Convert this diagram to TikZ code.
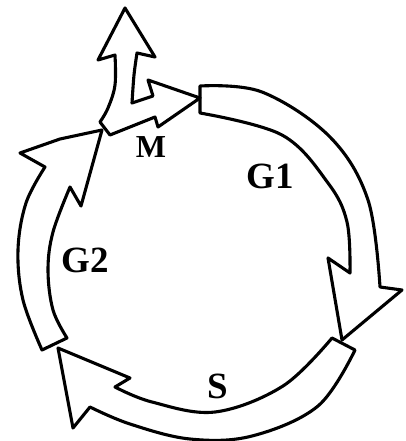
\documentclass[tikz,border=0pt]{standalone}
\usepackage{fontspec}
\setmainfont{Liberation Serif}
\begin{document}
\begin{tikzpicture}[x=1pt,y=-1pt,
  band/.style={draw=black, line width=3.1pt, line join=round, fill=white},
  lbl/.style={inner sep=0pt, font=\fontsize{37}{37}\selectfont\bfseries},
  lblm/.style={inner sep=0pt, font=\fontsize{32}{32}\selectfont\bfseries}]
\useasboundingbox[fill=white] (0,0) rectangle (405,441);
% G1
\draw[band] (200,113) -- (200,86)
  -- plot[smooth, tension=0.6] coordinates {(200,86) (262,92) (330,137) (368,200) (380,287)}
  -- (402,290) -- (342,340) -- (328,258) -- (350,273)
  -- plot[smooth, tension=0.6] coordinates {(350,273) (347,222) (328,183) (282,135) (200,113)}
  -- cycle;
% S
\draw[band] (332,338) -- (355,350)
  -- plot[smooth, tension=0.6] coordinates {(355,350) (318,406) (252,436) (190,439) (130,424) (90,407)}
  -- (73,428) -- (58,348) -- (130,378) -- (115,387)
  -- plot[smooth, tension=0.6] coordinates {(115,387) (152,402) (215,412) (283,386) (332,338)}
  -- cycle;
% G2
\draw[band] (67,338) -- (42,350)
  -- plot[smooth, tension=0.6] coordinates {(42,350) (23,300) (18,250) (26,203) (45,167)}
  -- (20,153) -- (60,139) -- (102,130) -- (81,206) -- (70,187)
  -- plot[smooth, tension=0.6] coordinates {(70,187) (53,232) (48,270) (53,310) (67,338)}
  -- cycle;
% M
\draw[band] (110,135) -- (130,127) -- (155,117) -- (158,127) -- (200,98)
  -- (148,80) -- (153,96) -- (132,103)
  -- plot[smooth, tension=0.6] coordinates {(132,103) (134,75) (137,53)}
  -- (155,57) -- (125,8) -- (98,60) -- (115,55)
  -- plot[smooth, tension=0.6] coordinates {(115,55) (115,85) (108,108) (100,122)}
  -- cycle;
\node[lbl] (g1) at (270,176) {G1};
\node[lbl] (g2) at (85,260) {G2};
\node[lbl] (s) at (218,386) {S};
\node[lblm] (m) at (151,147) {M};
\end{tikzpicture}
\end{document}
